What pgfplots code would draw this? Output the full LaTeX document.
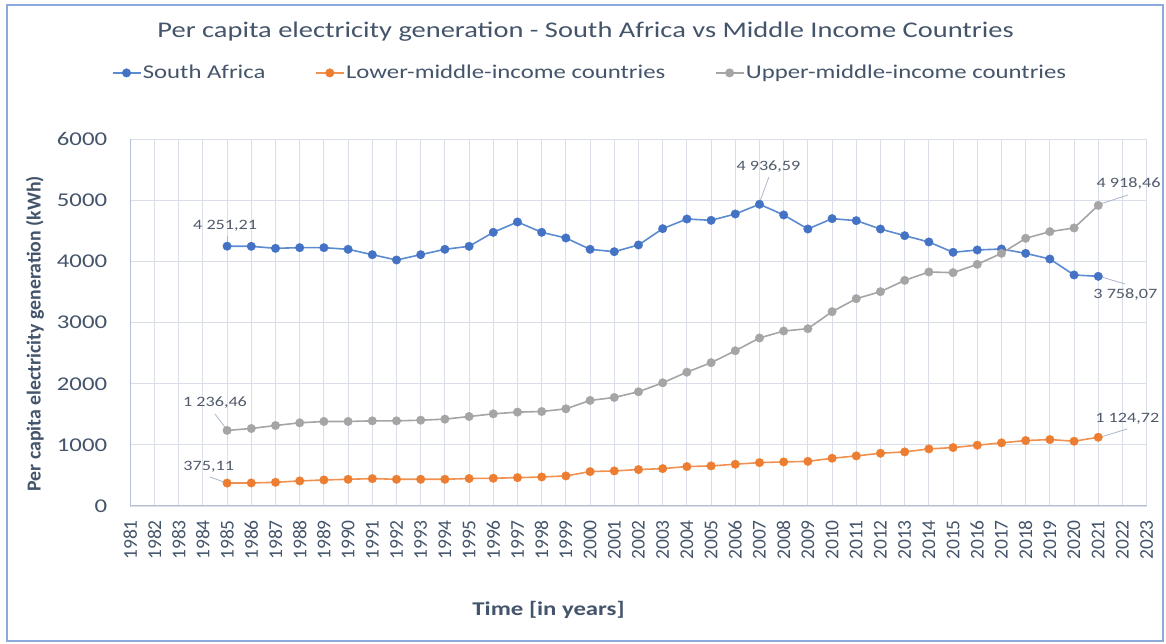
\documentclass[border=0pt]{standalone}
\usepackage{fontspec}
\setmainfont{Carlito}
\newfontfamily\hfont{Carlito}[FakeStretch=1.27]
\usepackage{pgfplots}
\usepackage{pgfplotstable}
\pgfplotsset{compat=1.18}
\definecolor{txt}{HTML}{44546A}
\definecolor{lbl}{HTML}{505A6A}
\definecolor{frame}{HTML}{8EA9DB}
\definecolor{gridc}{HTML}{D9DEE8}
\definecolor{axisc}{HTML}{B4C0D8}
\definecolor{sa}{HTML}{4472C4}
\definecolor{saline}{HTML}{5B8BD0}
\definecolor{lmic}{HTML}{ED7D31}
\definecolor{umic}{HTML}{A5A5A5}
\definecolor{leader}{HTML}{A9B6CA}

\pgfplotstableread{
year val
1985 4251.21
1986 4249
1987 4216
1988 4227
1989 4227
1990 4200
1991 4112
1992 4025
1993 4112
1994 4200
1995 4249
1996 4478
1997 4647
1998 4478
1999 4385
2000 4200
2001 4161
2002 4271
2003 4538
2004 4696
2005 4674
2006 4778
2007 4936.59
2008 4762
2009 4532
2010 4702
2011 4669
2012 4532
2013 4423
2014 4320
2015 4151
2016 4189
2017 4205
2018 4134
2019 4041
2020 3780
2021 3758.07
}\tsa

\pgfplotstableread{
year val
1985 375.11
1986 377
1987 388
1988 410
1989 426
1990 437
1991 448
1992 437
1993 437
1994 437
1995 450
1996 454
1997 464
1998 475
1999 492
2000 563
2001 574
2002 596
2003 612
2004 645
2005 656
2006 683
2007 710
2008 721
2009 730
2010 781
2011 820
2012 863
2013 885
2014 934
2015 956
2016 995
2017 1033
2018 1071
2019 1087
2020 1060
2021 1124.72
}\tlmic

\pgfplotstableread{
year val
1985 1236.46
1986 1268
1987 1317
1988 1361
1989 1383
1990 1383
1991 1393
1992 1393
1993 1404
1994 1421
1995 1464
1996 1508
1997 1536
1998 1546
1999 1590
2000 1727
2001 1776
2002 1869
2003 2016
2004 2190
2005 2345
2006 2540
2007 2749
2008 2863
2009 2901
2010 3180
2011 3392
2012 3507
2013 3692
2014 3829
2015 3818
2016 3954
2017 4134
2018 4380
2019 4489
2020 4549
2021 4918.46
}\tumic

\begin{document}
\begin{tikzpicture}
\useasboundingbox (0,0) rectangle (1166pt,644pt);
\draw[frame, line width=1.2pt] (7pt,3pt) rectangle (1163pt,639pt);
\begin{axis}[
  at={(130.3pt,138pt)}, anchor=south west,
  scale only axis, width=1016.4pt, height=366.7pt,
  xmin=1981, xmax=2023, ymin=0, ymax=6000,
  xtick={1981,...,2023}, ytick={0,1000,...,6000},
  grid=major, major grid style={color=gridc, line width=0.9pt},
  axis lines=left, axis line style={-, color=axisc, line width=1pt},
  major tick length=0pt,
  clip=false,
  /pgf/number format/.cd, 1000 sep={}, assume math mode=true, /pgfplots/.cd,
  xticklabel style={rotate=90, anchor=east, inner sep=0pt, text=txt, font=\fontsize{19.5}{20}\selectfont},
  xticklabel shift=14pt,
  yticklabel style={anchor=east, inner sep=0pt, text=txt, font=\hfont\fontsize{19.5}{20}\selectfont},
  yticklabel shift=23pt,
  xlabel={Time [in years]},
  ylabel={Per capita electricity generation (kWh)},
  x label style={at={(axis description cs:0.4115,-0.2836)}, anchor=center, text=txt, font=\hfont\bfseries\fontsize{19.5}{22}\selectfont},
  y label style={at={(axis description cs:-0.0938,0.47)}, anchor=center, rotate=0, text=txt, font=\bfseries\fontsize{19.8}{22}\selectfont},
  legend style={at={(0.452,1.181)}, anchor=center, draw=none, fill=none,
    legend columns=3, font=\hfont\fontsize{19.5}{22}\selectfont, text=txt,
    nodes={inner sep=1.5pt},
    /tikz/every odd column/.append style={column sep=0pt},
    /tikz/every even column/.append style={column sep=48pt}},
  legend image code/.code={\draw[mark repeat=2,mark phase=2,#1] plot coordinates {(0pt,0pt) (14pt,0pt) (28pt,0pt)};},
]
\addplot[saline, line width=1.6pt, mark=*, mark size=4.3pt, mark options={solid, fill=sa, draw=sa, line width=0.3pt}] table[x=year,y=val] {\tsa};
\addlegendentry{South Africa}
\addplot[lmic!85!white, line width=1.6pt, mark=*, mark size=4.3pt, mark options={solid, fill=lmic, draw=lmic, line width=0.3pt}] table[x=year,y=val] {\tlmic};
\addlegendentry{Lower-middle-income countries}
\addplot[umic, line width=1.6pt, mark=*, mark size=4.3pt, mark options={solid, fill=umic, draw=umic, line width=0.3pt}] table[x=year,y=val] {\tumic};
\addlegendentry{Upper-middle-income countries}

\node[font=\hfont\fontsize{22.4}{24}\selectfont, text=txt] at (axis description cs:0.448,1.2926) {Per capita electricity generation - South Africa vs Middle Income Countries};

% data labels
\begin{scope}[every node/.style={font=\hfont\fontsize{14.3}{16}\selectfont, text=lbl, inner sep=0pt}]
\draw[leader, line width=0.8pt] (axis cs:1985,4418) -- (axis cs:1985,4300);
\node at (axis cs:1984.92,4582) {4 251,21};
\draw[leader, line width=0.8pt] (axis cs:2007.39,5384) -- (axis cs:2007.02,4985);
\node at (axis cs:2007.37,5547) {4 936,59};
\draw[leader, line width=0.8pt] (axis cs:2021.15,4950) -- (axis cs:2022.23,5089);
\node at (axis cs:2022.25,5269) {4 918,46};
\draw[leader, line width=0.8pt] (axis cs:2021.15,3745) -- (axis cs:2022.1,3633);
\node at (axis cs:2022.12,3453) {3 758,07};
\draw[leader, line width=0.8pt] (axis cs:1984.5,1505) -- (axis cs:1984.91,1290);
\node at (axis cs:1984.5,1685) {1 236,46};
\draw[leader, line width=0.8pt] (axis cs:1984.29,475) -- (axis cs:1984.85,395);
\node at (axis cs:1984.24,638) {375,11};
\draw[leader, line width=0.8pt] (axis cs:2021.15,1135) -- (axis cs:2022.2,1260);
\node at (axis cs:2022.2,1424) {1 124,72};
\end{scope}
\end{axis}
\end{tikzpicture}
\end{document}
